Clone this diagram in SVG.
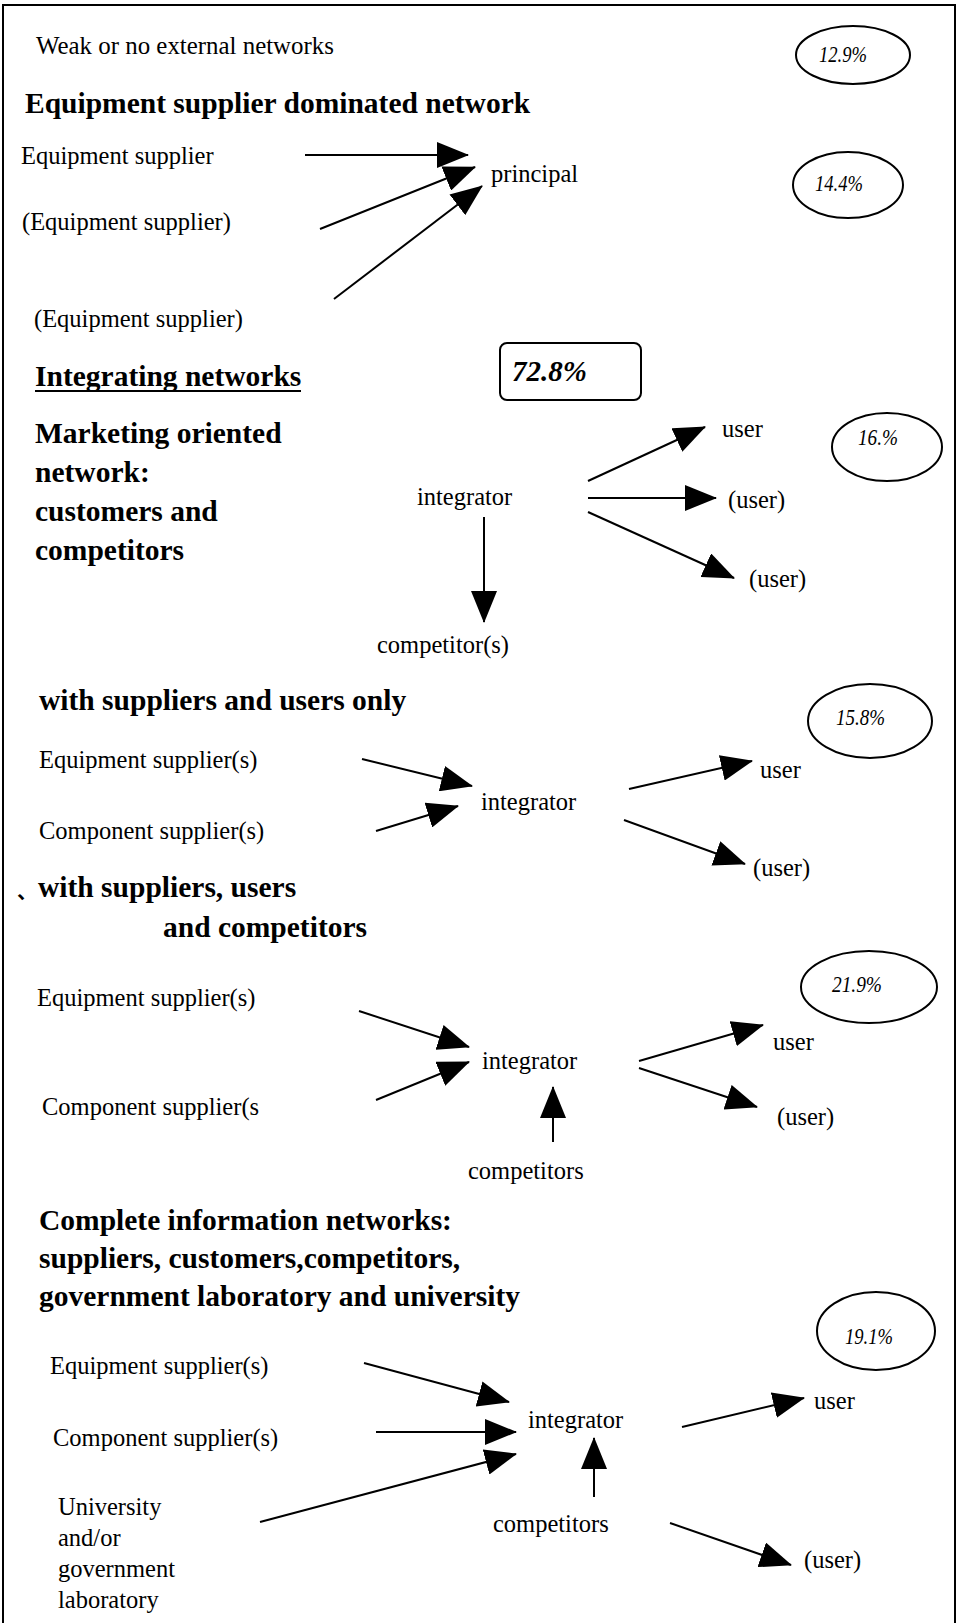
<svg xmlns="http://www.w3.org/2000/svg" width="956" height="1623" viewBox="0 0 956 1623">
<defs>
<marker id="ah" markerUnits="userSpaceOnUse" markerWidth="32" markerHeight="26" viewBox="0 0 32 26" refX="31" refY="13" orient="auto">
<path d="M0,0 L32,13 L0,26 Z" fill="#000"/>
</marker>
<style>
text{font-family:"Liberation Serif","Times New Roman",serif;fill:#000}
.r{font-size:24.5px}
.b{font-size:29.5px;font-weight:bold}
.p{font-size:23px;font-style:italic}
.pb{font-size:29px;font-style:italic;font-weight:bold}
.sh{fill:none;stroke:#000;stroke-width:2}
.cn line{stroke:#000;stroke-width:2;marker-end:url(#ah)}
</style>
</defs>
<rect width="956" height="1623" fill="#fff"/>
<path class="sh" d="M3,1630 V5 H955 V1630"/>

<g id="weak">
<text class="r" x="36" y="54" style="font-size:24.9px">Weak or no external networks</text>
<ellipse class="sh" cx="853" cy="55" rx="57" ry="29"/>
<text class="p" x="819" y="62" textLength="48" lengthAdjust="spacingAndGlyphs">12.9%</text>
</g>

<g id="equip-dominated">
<text class="b" x="25" y="113">Equipment supplier dominated network</text>
<text class="r" x="21" y="164">Equipment supplier</text>
<text class="r" x="22" y="230">(Equipment supplier)</text>
<text class="r" x="34" y="327">(Equipment supplier)</text>
<text class="r" x="491" y="182">principal</text>
<ellipse class="sh" cx="848" cy="185" rx="55" ry="33"/>
<text class="p" x="815" y="191" textLength="48" lengthAdjust="spacingAndGlyphs">14.4%</text>
</g>

<g id="integrating">
<text class="b" x="35" y="386">Integrating networks</text>
<line x1="35" y1="391" x2="301" y2="391" stroke="#000" stroke-width="2"/>
<rect class="sh" x="500" y="343" width="141" height="57" rx="7"/>
<text class="pb" x="512" y="381">72.8%</text>
</g>

<g id="marketing">
<text class="b" x="35" y="443">Marketing oriented</text>
<text class="b" x="35" y="482">network:</text>
<text class="b" x="35" y="521">customers and</text>
<text class="b" x="35" y="560">competitors</text>
<text class="r" x="417" y="505">integrator</text>
<text class="r" x="377" y="653">competitor(s)</text>
<text class="r" x="722" y="437">user</text>
<text class="r" x="728" y="508">(user)</text>
<text class="r" x="749" y="587">(user)</text>
<ellipse class="sh" cx="887" cy="447" rx="55" ry="34"/>
<text class="p" x="858" y="445" textLength="40" lengthAdjust="spacingAndGlyphs">16.%</text>
</g>

<g id="suppliers-users">
<text class="b" x="39" y="710">with suppliers and users only</text>
<ellipse class="sh" cx="870" cy="721" rx="62" ry="37"/>
<text class="p" x="836" y="725" textLength="49" lengthAdjust="spacingAndGlyphs">15.8%</text>
<text class="r" x="39" y="768">Equipment supplier(s)</text>
<text class="r" x="39" y="839">Component supplier(s)</text>
<text class="r" x="481" y="810">integrator</text>
<text class="r" x="760" y="778">user</text>
<text class="r" x="753" y="876">(user)</text>
</g>

<g id="suppliers-users-competitors">
<text x="17" y="899" style="font-family:'Noto Sans CJK SC','Liberation Serif',sans-serif;font-size:20px;font-weight:bold">、</text>
<text class="b" x="38" y="897">with suppliers, users</text>
<text class="b" x="163" y="937">and competitors</text>
<ellipse class="sh" cx="869" cy="987" rx="68" ry="36"/>
<text class="p" x="832" y="992" textLength="50" lengthAdjust="spacingAndGlyphs">21.9%</text>
<text class="r" x="37" y="1006">Equipment supplier(s)</text>
<text class="r" x="42" y="1115">Component supplier(s</text>
<text class="r" x="482" y="1069">integrator</text>
<text class="r" x="468" y="1179">competitors</text>
<text class="r" x="773" y="1050">user</text>
<text class="r" x="777" y="1125">(user)</text>
</g>

<g id="complete">
<text class="b" x="39" y="1230">Complete information networks:</text>
<text class="b" x="39" y="1268">suppliers, customers,competitors,</text>
<text class="b" x="39" y="1306">government laboratory and university</text>
<ellipse class="sh" cx="876" cy="1331" rx="59" ry="39"/>
<text class="p" x="845" y="1344" textLength="48" lengthAdjust="spacingAndGlyphs">19.1%</text>
<text class="r" x="50" y="1374">Equipment supplier(s)</text>
<text class="r" x="53" y="1446">Component supplier(s)</text>
<text class="r" x="58" y="1515">University</text>
<text class="r" x="58" y="1546">and/or</text>
<text class="r" x="58" y="1577">government</text>
<text class="r" x="58" y="1608">laboratory</text>
<text class="r" x="528" y="1428">integrator</text>
<text class="r" x="493" y="1532">competitors</text>
<text class="r" x="814" y="1409">user</text>
<text class="r" x="804" y="1568">(user)</text>
</g>

<g id="connectors" class="cn">
<line x1="305" y1="155" x2="468" y2="155"/>
<line x1="320" y1="229" x2="475" y2="167"/>
<line x1="334" y1="299" x2="482" y2="186"/>

<line x1="484" y1="517" x2="484" y2="622"/>
<line x1="588" y1="481" x2="705" y2="427"/>
<line x1="588" y1="498" x2="716" y2="498"/>
<line x1="588" y1="512" x2="734" y2="578"/>

<line x1="362" y1="759" x2="472" y2="786"/>
<line x1="376" y1="831" x2="458" y2="806"/>
<line x1="629" y1="789" x2="752" y2="761"/>
<line x1="624" y1="820" x2="745" y2="864"/>

<line x1="359" y1="1011" x2="469" y2="1047"/>
<line x1="376" y1="1100" x2="469" y2="1062"/>
<line x1="553" y1="1142" x2="553" y2="1087"/>
<line x1="639" y1="1061" x2="763" y2="1025"/>
<line x1="639" y1="1068" x2="757" y2="1107"/>

<line x1="364" y1="1363" x2="509" y2="1402"/>
<line x1="376" y1="1432" x2="516" y2="1432"/>
<line x1="260" y1="1522" x2="516" y2="1454"/>
<line x1="594" y1="1497" x2="594" y2="1438"/>
<line x1="682" y1="1427" x2="804" y2="1398"/>
<line x1="670" y1="1523" x2="791" y2="1565"/>
</g>
</svg>
